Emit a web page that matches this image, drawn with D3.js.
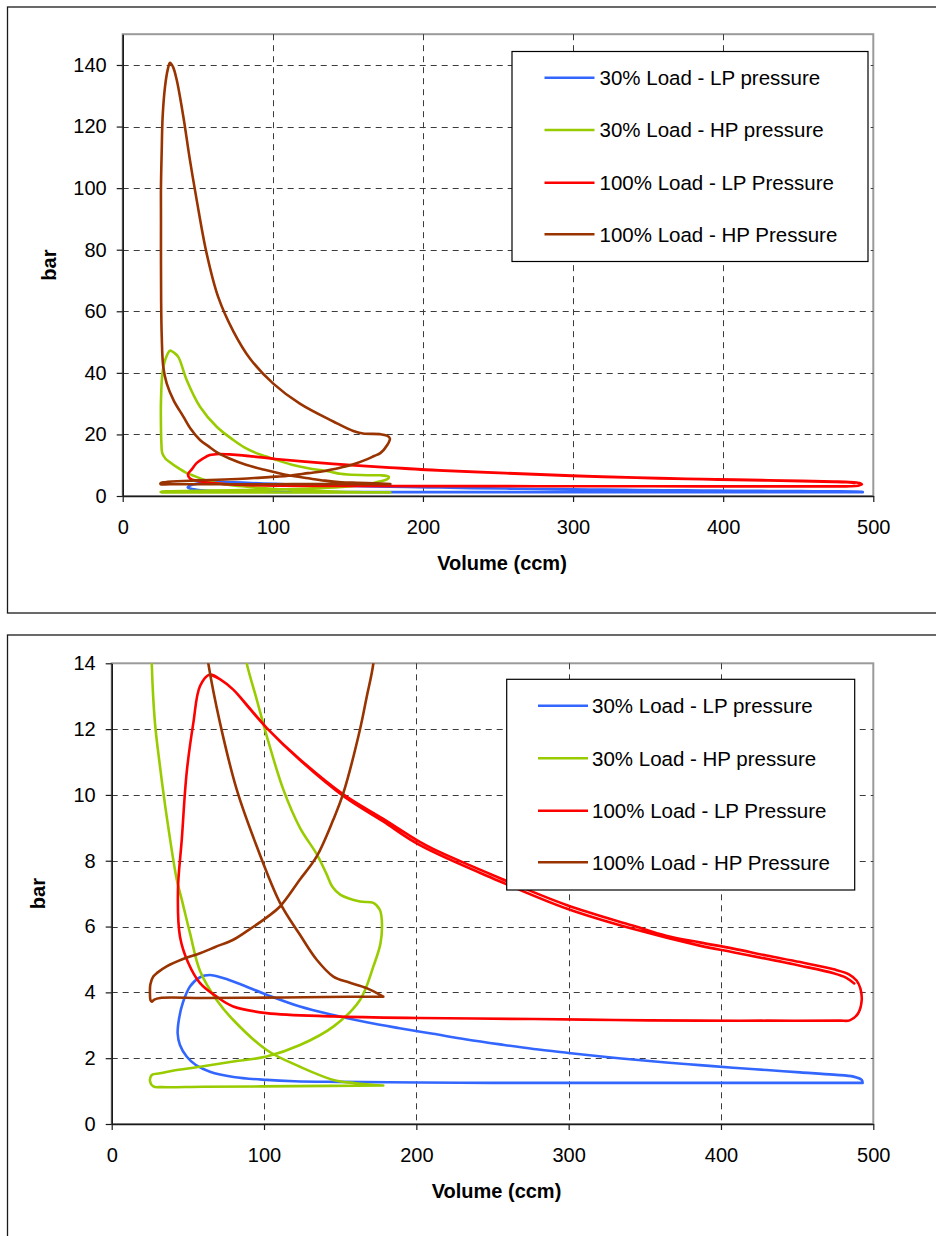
<!DOCTYPE html>
<html>
<head>
<meta charset="utf-8">
<script src="https://cdn.jsdelivr.net/npm/d3@7"></script>
<style>
  html, body { margin: 0; padding: 0; background: #fff; }
  svg { display: block; }
  text { font-family: "Liberation Sans", Arial, sans-serif; fill: #000; }
</style>
</head>
<body>
<svg id="chart" width="936" height="1236"></svg>
<script>
// ---- Data: indicator loops, [volume (ccm), pressure (bar)] ----
const seriesNames = [
  "30% Load - LP pressure",
  "30% Load - HP pressure",
  "100% Load - LP Pressure",
  "100% Load - HP Pressure"
];
const seriesColors = ["#3366FF", "#99CC00", "#FF0000", "#993300"];

const lp30 = [
  [493, 1.25], [430, 1.25], [350, 1.25], [300, 1.25], [250, 1.25], [202, 1.26], [150, 1.28],
  [120, 1.30], [101.7, 1.34], [80, 1.43], [64.5, 1.59], [55, 1.8], [49.2, 2.05], [44.8, 2.4],
  [43.3, 2.75], [44.2, 3.2], [46.8, 3.7], [51.4, 4.18], [58, 4.46], [64.5, 4.53], [72, 4.45],
  [79.8, 4.33], [101.7, 3.93], [123.6, 3.57], [145.5, 3.31], [167.4, 3.09], [189, 2.91],
  [211, 2.74], [233, 2.57], [255, 2.42], [277, 2.28], [300, 2.16], [320, 2.06],
  [342, 1.96], [364, 1.87], [386, 1.79], [408, 1.71], [430, 1.64], [452, 1.57],
  [474, 1.50], [487, 1.44], [492.4, 1.34], [493, 1.25]
];

const hp30 = [
  [178.3, 1.17], [160, 1.24], [145.5, 1.34], [123.6, 1.74], [101.7, 2.25], [79.8, 3.16],
  [68.9, 3.77], [58, 4.65], [51.4, 5.8], [46, 6.82], [42.7, 7.43], [36.1, 9.35], [31.7, 10.87],
  [28.4, 12.19], [26.3, 14.0], [25.8, 17], [25.5, 22], [25.5, 31], [26.5, 40], [28.5, 44.5],
  [31.5, 47.2], [34, 46.6], [37, 45.2], [42.6, 37.7], [51.5, 29.0], [62.6, 22.5], [73.7, 18.2],
  [81, 15.8], [88.6, 14.0], [95.2, 12.9], [101.8, 11.79], [112.7, 10.16], [123.6, 9.0],
  [134.6, 8.2], [141, 7.6], [145, 7.2], [150, 6.97], [163, 6.76], [171.8, 6.72], [176, 6.51],
  [177.3, 6.21], [176.5, 5.5], [171.8, 4.79], [163, 3.77], [145.5, 2.96], [123.6, 2.40],
  [101.7, 2.05], [79.8, 1.90], [58, 1.74], [40, 1.62], [31.7, 1.54], [26.3, 1.49],
  [25.2, 1.29], [27.3, 1.14], [32.8, 1.12], [60, 1.13], [120, 1.15], [178.3, 1.17]
];

// two consecutive cycles: the second expansion stroke runs just below the first
const lp100 = [
  [64.5, 13.66], [71, 13.52], [79.8, 13.2], [90, 12.65], [101.7, 12.04], [123.6, 11.08],
  [152, 10.02], [178, 9.28], [202, 8.58], [211, 8.36], [255, 7.47], [299, 6.65], [342, 6.03],
  [364, 5.72], [386, 5.52], [408, 5.33], [430, 5.12], [452, 4.92], [474, 4.70], [484, 4.55],
  [489, 4.36], [491.5, 4.12], [492.4, 3.77], [490, 3.36], [484.5, 3.15], [478, 3.14],
  [430, 3.14], [386, 3.14], [330, 3.16], [277, 3.19], [202, 3.22], [145.5, 3.27],
  [101.7, 3.37], [79.8, 3.57], [68.9, 3.87], [58, 4.28], [50.3, 4.89], [44.8, 5.7],
  [43.5, 7.12], [46, 8.64], [49.2, 10.67], [53.6, 12.19], [58, 13.31], [64.5, 13.66],
  [71, 13.52], [79.8, 13.2], [101.7, 12.04], [123.6, 11.06], [152, 9.97], [178, 9.2],
  [202, 8.48], [255, 7.37], [299, 6.54], [342, 5.93], [386, 5.42], [408, 5.22], [452, 4.81],
  [474, 4.58], [482, 4.45], [487.5, 4.27]
];

const hp100 = [
  [178.3, 3.87], [167.4, 4.13], [156, 4.3], [145.5, 4.48], [134.6, 4.99], [123.6, 5.75],
  [110.5, 6.72], [95.2, 8.44], [82.1, 10.16], [71.1, 12.19], [63.4, 14.0], [57, 16.2],
  [51.5, 18.2], [45, 22], [40.4, 25.8], [34, 31], [29.3, 36.6], [27, 42], [26, 52],
  [25.6, 63.7], [25.5, 76.6], [25.5, 90], [25.5, 100.5], [26, 112.4], [26.6, 123.2],
  [28.2, 133], [30, 138.5], [31.5, 140.7], [33.5, 139.4], [36, 135.1], [40.4, 123.2],
  [44.8, 109.1], [49.3, 96.1], [55.9, 78.8], [63.7, 64.5], [73.7, 53.5], [85, 44.5],
  [100.3, 36.5], [118, 30.0], [140.3, 24.2], [153.6, 21.1], [160, 20.3], [171.4, 20.1],
  [176, 19.6], [178, 18.7], [176, 16.4], [171.8, 14.0], [167.5, 13.0], [163, 11.99],
  [152.1, 10.06], [145.5, 9.25], [134.6, 8.13], [123.6, 7.43], [110.5, 6.61], [101.8, 6.28],
  [90, 5.9], [79.8, 5.6], [68, 5.38], [58, 5.19], [46, 5.0], [36.1, 4.79], [30, 4.6],
  [27.3, 4.48], [25.4, 4.25], [25.1, 3.98], [25.5, 3.76], [26.3, 3.72], [28, 3.78],
  [31.7, 3.83], [60, 3.83], [100, 3.84], [140, 3.86], [178.3, 3.87]
];

const seriesData = [lp30, hp30, lp100, hp100];

const xTicks = [0, 100, 200, 300, 400, 500];
const yTicksFull = [0, 20, 40, 60, 80, 100, 120, 140];
const yTicksZoom = [0, 2, 4, 6, 8, 10, 12, 14];

// ---- Layout ----
const charts = [
  {
    frame: { x: 7.5, y: 7, w: 940, h: 606 },
    plot: { left: 122.7, right: 873.3, top: 34.2, bottom: 496 },
    yMax: 150, yTicks: yTicksFull,
    legend: { x: 512, y: 51.5, w: 356, h: 210, rows: [77.7, 130, 182.7, 234.3], lineX0: 544.5, lineX1: 594.5, textX: 599.5 }
  },
  {
    frame: { x: 7.5, y: 635, w: 940, h: 620 },
    plot: { left: 111.7, right: 873.3, top: 663.3, bottom: 1124 },
    yMax: 14, yTicks: yTicksZoom,
    legend: { x: 506.7, y: 679.3, w: 348, h: 210.7, rows: [705.7, 758.3, 810.7, 862.3], lineX0: 538, lineX1: 588, textX: 592 }
  }
];

const svg = d3.select("#chart");

charts.forEach((c, ci) => {
  const g = svg.append("g");

  // outer frame
  g.append("rect")
    .attr("x", c.frame.x).attr("y", c.frame.y)
    .attr("width", c.frame.w).attr("height", c.frame.h)
    .attr("fill", "#fff").attr("stroke", "#1a1a1a").attr("stroke-width", 1.3);

  const x = d3.scaleLinear().domain([0, 500]).range([c.plot.left, c.plot.right]);
  const y = d3.scaleLinear().domain([0, c.yMax]).range([c.plot.bottom, c.plot.top]);

  // plot area border (top and right in grey)
  g.append("rect")
    .attr("x", c.plot.left).attr("y", c.plot.top)
    .attr("width", c.plot.right - c.plot.left).attr("height", c.plot.bottom - c.plot.top)
    .attr("fill", "#fff").attr("stroke", "#9a9a9a").attr("stroke-width", 2);

  // dashed grid
  const grid = g.append("g").attr("stroke", "#3c3c3c").attr("stroke-width", 1)
    .attr("stroke-dasharray", "6,5");
  grid.selectAll("line.v").data(xTicks.filter(t => t > 0 && t < 500)).join("line")
    .attr("x1", d => Math.round(x(d)) + 0.5).attr("x2", d => Math.round(x(d)) + 0.5)
    .attr("y1", c.plot.top).attr("y2", c.plot.bottom);
  grid.selectAll("line.h").data(c.yTicks.filter(t => t > 0 && t < c.yMax)).join("line")
    .attr("y1", d => Math.round(y(d)) + 0.5).attr("y2", d => Math.round(y(d)) + 0.5)
    .attr("x1", c.plot.left).attr("x2", c.plot.right);

  // curves, clipped to the plot area
  const clipId = "clip" + ci;
  g.append("clipPath").attr("id", clipId).append("rect")
    .attr("x", c.plot.left).attr("y", c.plot.top)
    .attr("width", c.plot.right - c.plot.left).attr("height", c.plot.bottom - c.plot.top);

  const line = d3.line()
    .x(d => x(d[0])).y(d => y(d[1]))
    .curve(d3.curveCatmullRom.alpha(0.5));

  g.append("g").attr("clip-path", `url(#${clipId})`)
    .selectAll("path").data(seriesData).join("path")
    .attr("d", d => line(d))
    .attr("fill", "none")
    .attr("stroke", (d, i) => seriesColors[i])
    .attr("stroke-width", 2.6)
    .attr("stroke-linejoin", "round")
    .attr("stroke-linecap", "round");

  // axes
  const yAxis = d3.axisLeft(y).tickValues(c.yTicks).tickSize(6).tickSizeOuter(0).tickPadding(10);
  const xAxis = d3.axisBottom(x).tickValues(xTicks).tickSize(6).tickSizeOuter(0).tickPadding(18);

  const ya = g.append("g").attr("transform", `translate(${c.plot.left},0)`).call(yAxis);
  const xa = g.append("g").attr("transform", `translate(0,${c.plot.bottom})`).call(xAxis);
  [ya, xa].forEach(a => {
    a.select(".domain").attr("stroke", "#1a1a1a").attr("stroke-width", 1.6);
    a.selectAll(".tick line").attr("stroke", "#1a1a1a").attr("stroke-width", 1.2);
    a.selectAll(".tick text").attr("font-size", 20)
      .attr("font-family", "'Liberation Sans', Arial, sans-serif").attr("fill", "#000");
  });

  // axis titles
  g.append("text")
    .attr("x", (c.plot.left + c.plot.right) / 2 + 4).attr("y", c.plot.bottom + 74)
    .attr("text-anchor", "middle").attr("font-size", 20).attr("font-weight", "bold")
    .text("Volume (ccm)");
  g.append("text")
    .attr("transform", `translate(${c.plot.left - 66.5},${(c.plot.top + c.plot.bottom) / 2}) rotate(-90)`)
    .attr("text-anchor", "middle").attr("font-size", 20).attr("font-weight", "bold")
    .text("bar");

  // legend
  const L = c.legend;
  const lg = g.append("g");
  lg.append("rect").attr("x", L.x).attr("y", L.y).attr("width", L.w).attr("height", L.h)
    .attr("fill", "#fff").attr("stroke", "#000").attr("stroke-width", 1.2);
  seriesNames.forEach((name, i) => {
    lg.append("line")
      .attr("x1", L.lineX0).attr("x2", L.lineX1)
      .attr("y1", L.rows[i]).attr("y2", L.rows[i])
      .attr("stroke", seriesColors[i]).attr("stroke-width", 2.6);
    lg.append("text")
      .attr("x", L.textX).attr("y", L.rows[i]).attr("dy", "0.36em")
      .attr("font-size", 20.5).text(name);
  });
});
</script>
</body>
</html>
